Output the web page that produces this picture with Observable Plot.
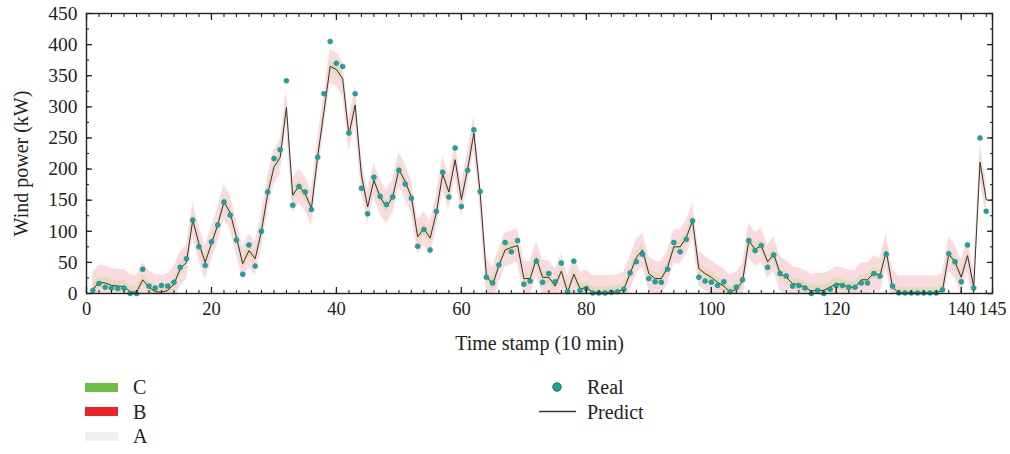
<!DOCTYPE html>
<html>
<head>
<meta charset="utf-8">
<script src="https://cdn.jsdelivr.net/npm/d3@7"></script>
<script src="https://cdn.jsdelivr.net/npm/@observablehq/plot@0.6"></script>
<style>
  body { margin: 0; background: #fff; font-family: "Liberation Serif", "DejaVu Serif", serif; width: 1010px; height: 454px; position: relative; overflow: hidden; }
  #chart { position: absolute; left: 0; top: 0; }
  .leg { position: absolute; font-size: 20px; color: #222; line-height: 1; white-space: nowrap; }
  .sw { position: absolute; width: 33px; height: 9px; }
</style>
</head>
<body>
<div id="chart"></div>
<div id="legend"></div>
<script>
// ---- data ----
const timeStamps = d3.range(1, 145);
const realPower = [
  5, 16, 10, 9, 8, 9, 0, 0, 39, 12,
  9, 13, 12, 18, 42, 56, 118, 75, 45, 83,
  110, 147, 126, 86, 31, 78, 44, 100, 163, 217,
  231, 342, 142, 172, 163, 135, 219, 321, 405, 370,
  365, 258, 321, 169, 128, 187, 156, 143, 155, 198,
  176, 153, 76, 103, 70, 132, 195, 155, 234, 140,
  198, 263, 164, 26, 17, 46, 82, 67, 85, 15,
  20, 52, 18, 32, 19, 49, 3, 52, 5, 8,
  1, 1, 1, 2, 3, 7, 33, 51, 63, 24,
  19, 18, 39, 82, 67, 87, 117, 26, 20, 18,
  13, 19, 3, 10, 22, 85, 69, 77, 42, 62,
  32, 28, 12, 13, 9, 0, 5, 0, 7, 13,
  13, 10, 10, 17, 17, 32, 28, 63, 12, 1,
  1, 1, 1, 1, 1, 1, 6, 64, 51, 19,
  78, 9, 250, 132
];
const predictPower = [
  6, 18, 17, 13, 12, 11, 3, 2, 22, 10,
  3, 2, 5, 15, 40, 50, 118, 80, 50, 80,
  110, 147, 130, 90, 48, 69, 56, 100, 160, 203,
  219, 299, 158, 173, 160, 137, 220, 292, 365, 360,
  345, 255, 303, 190, 139, 182, 155, 139, 155, 199,
  180, 155, 91, 104, 89, 130, 192, 163, 215, 151,
  200, 258, 162, 29, 14, 45, 70, 74, 77, 24,
  24, 56, 26, 26, 12, 36, 2, 31, 7, 10,
  2, 2, 2, 2, 3, 7, 32, 58, 70, 32,
  24, 24, 42, 75, 75, 90, 117, 40, 32, 26,
  18, 12, 2, 7, 20, 85, 71, 77, 51, 63,
  32, 26, 16, 14, 10, 4, 5, 5, 10, 16,
  14, 10, 10, 22, 22, 33, 29, 68, 10, 1,
  1, 1, 1, 1, 1, 1, 5, 63, 51, 26,
  61, 10, 211, 151
];
// half-widths of the uncertainty bands (kW)
const bandHalfA = 34;
const bandHalfB = 27;
const bandHalfC = 9;
const xTickLabels = [0, 20, 40, 60, 80, 100, 120, 140, 145];
const xMinorTicks = d3.range(0, 146, 2);
const yTickLabels = [0, 50, 100, 150, 200, 250, 300, 350, 400, 450];
const yMinorTicks = d3.range(0, 451, 25);
const legendBands = [
  {name: "C", color: "#6abf45"},
  {name: "B", color: "#ee2229"},
  {name: "A", color: "#eff0f0"}
];

// ---- table for the library ----
const rows = timeStamps.map((t, i) => ({t, real: realPower[i], pred: predictPower[i]}));

const tickColor = "#222";
const plot = Plot.plot({
  width: 1010,
  height: 360,
  marginTop: 13,
  marginBottom: 67,
  marginLeft: 86,
  marginRight: 18,
  style: {fontFamily: "'Liberation Serif', serif", fontSize: "19px", color: "#222", background: "transparent"},
  x: {domain: [0, 145]},
  y: {domain: [0, 450]},
  marks: [
    Plot.areaY(rows, {x: "t", y1: d => d.pred - bandHalfA, y2: d => d.pred + bandHalfA, fill: legendBands[2].color, fillOpacity: 0.2, clip: true}),
    Plot.areaY(rows, {x: "t", y1: d => d.pred - bandHalfB, y2: d => d.pred + bandHalfB, fill: "#ec2a4a", fillOpacity: 0.16, clip: true}),
    Plot.areaY(rows, {x: "t", y1: d => d.pred - bandHalfC, y2: d => d.pred + bandHalfC, fill: "#b8d84a", fillOpacity: 0.25, clip: true}),
    Plot.line(rows, {x: "t", y: "pred", stroke: "#3a3030", strokeWidth: 1}),
    Plot.dot(rows, {x: "t", y: "real", r: 2.5, fill: "#1ba39c", stroke: "#16918b", strokeWidth: 0.5}),
    Plot.frame({stroke: tickColor, strokeWidth: 1.4}),
    // bottom axis
    Plot.axisX(xTickLabels, {anchor: "bottom", tickSize: 0, tickPadding: 8, label: null, fontSize: 18.5}),
    Plot.axisX(xTickLabels, {anchor: "bottom", tickSize: -6, text: null, label: null, strokeWidth: 1.3}),
    Plot.axisX(xMinorTicks, {anchor: "bottom", tickSize: -3, text: null, label: null, strokeWidth: 1.1}),
    // top axis
    Plot.axisX(xTickLabels, {anchor: "top", tickSize: -6, text: null, label: null, strokeWidth: 1.3}),
    Plot.axisX(xMinorTicks, {anchor: "top", tickSize: -3, text: null, label: null, strokeWidth: 1.1}),
    // left axis
    Plot.axisY(yTickLabels, {anchor: "left", tickSize: 0, tickPadding: 9, label: null, fontSize: 19.5}),
    Plot.axisY(yTickLabels, {anchor: "left", tickSize: -6, text: null, label: null, strokeWidth: 1.3}),
    Plot.axisY(yMinorTicks, {anchor: "left", tickSize: -3, text: null, label: null, strokeWidth: 1.1}),
    // right axis
    Plot.axisY(yTickLabels, {anchor: "right", tickSize: -6, text: null, label: null, strokeWidth: 1.3}),
    Plot.axisY(yMinorTicks, {anchor: "right", tickSize: -3, text: null, label: null, strokeWidth: 1.1}),
    // axis titles
    Plot.text(["Time stamp (10 min)"], {frameAnchor: "bottom", dy: 50, text: d => d, fontSize: 20, lineAnchor: "middle", textAnchor: "middle"}),
    Plot.text(["Wind power (kW)"], {frameAnchor: "left", dx: -65, dy: 10, rotate: -90, text: d => d, fontSize: 20, lineAnchor: "middle", textAnchor: "middle"})
  ]
});
document.getElementById("chart").appendChild(plot);

// ---- legend (below the SVG) ----
const leg = document.getElementById("legend");
legendBands.forEach((b, i) => {
  const cy = 387 + i * 24.5;
  const sw = document.createElement("div");
  sw.className = "sw";
  sw.style.left = "85px";
  sw.style.top = (cy - 4.5) + "px";
  sw.style.background = b.color;
  leg.appendChild(sw);
  const tx = document.createElement("div");
  tx.className = "leg";
  tx.style.left = "133px";
  tx.style.top = (cy - 10) + "px";
  tx.textContent = b.name;
  leg.appendChild(tx);
});
// Real / Predict markers
const dotEl = document.createElementNS("http://www.w3.org/2000/svg", "svg");
dotEl.setAttribute("width", "1010");
dotEl.setAttribute("height", "94");
dotEl.style.position = "absolute";
dotEl.style.left = "0px";
dotEl.style.top = "360px";
dotEl.innerHTML = `<circle cx="557" cy="27" r="4.2" fill="#1ba39c" stroke="#0f6f6a" stroke-width="1"/>
<line x1="539" x2="576" y1="51.5" y2="51.5" stroke="#3a3a3a" stroke-width="1.3"/>`;
leg.appendChild(dotEl);
[["Real", 387], ["Predict", 411.5]].forEach(([name, cy]) => {
  const tx = document.createElement("div");
  tx.className = "leg";
  tx.style.left = "587px";
  tx.style.top = (cy - 10) + "px";
  tx.textContent = name;
  leg.appendChild(tx);
});
</script>
</body>
</html>
